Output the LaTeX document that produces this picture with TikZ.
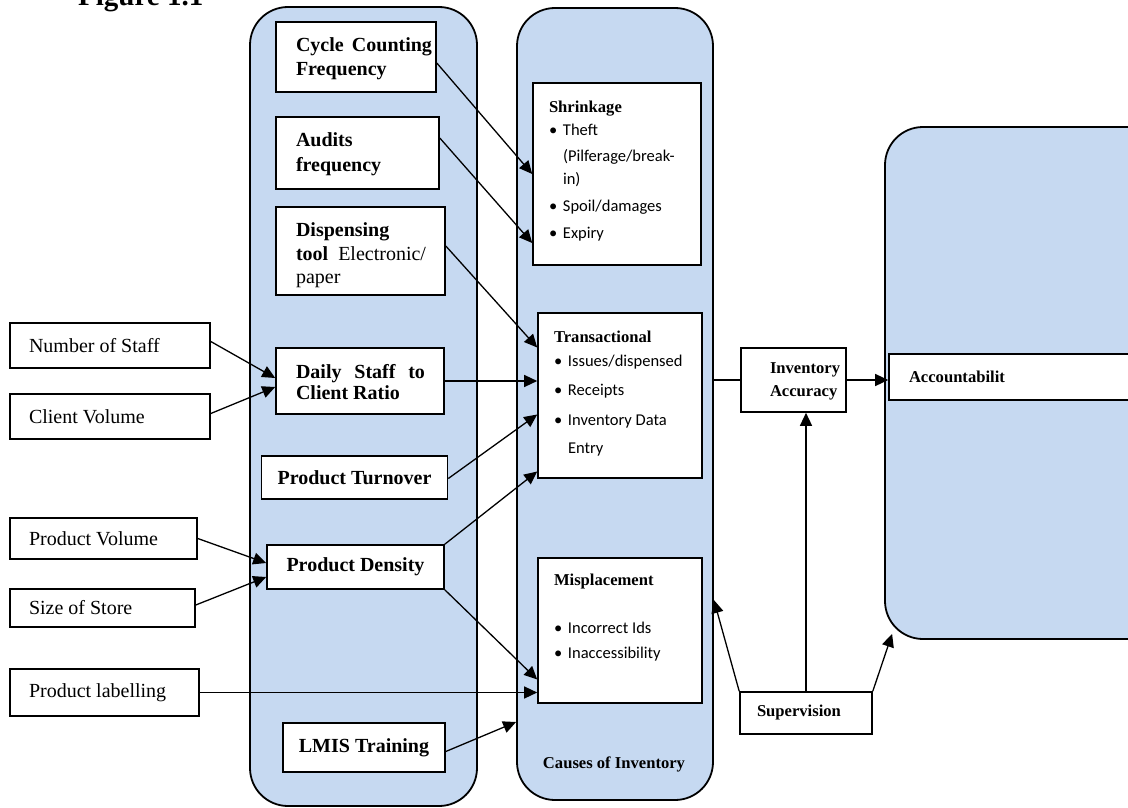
\documentclass[tikz,border=0pt]{standalone}
\usepackage{fontspec}
\setmainfont{Liberation Serif}
\newfontfamily\calfont{Carlito}
\usetikzlibrary{arrows.meta}
\definecolor{colblue}{RGB}{198,217,241}
\newcommand\mytbox[4]{\parbox[c][#2pt][t]{#1pt}{\vspace*{#3pt}#4}}
\newcommand\mycbox[3]{\parbox[c][#2pt][c]{#1pt}{#3}}
\newcommand\bul{\makebox[14pt][l]{\textbullet}}
\newcommand\LBf{\fontsize{20}{23.5}\selectfont\bfseries\hyphenpenalty=10000\relax\leftskip=20pt\relax}
\newcommand\LRf{\fontsize{20}{24}\selectfont\leftskip=19pt\relax\rightskip=0pt plus 1fil\relax}
\newcommand\MBf{\calfont\fontsize{16.5}{23}\selectfont\leftskip=16pt\relax\rightskip=0pt plus 1fil\relax}
\newcommand\MT[1]{{\rmfamily\bfseries\fontsize{16.6}{23}\selectfont #1}}
\newcommand\RBf{\fontsize{16.6}{23}\selectfont\bfseries\rightskip=0pt plus 1fil\relax}
\begin{document}
\begin{tikzpicture}[x=1pt,y=-1pt,
  col/.style={draw=black, line width=1.8pt, fill=colblue, rounded corners=38pt, inner sep=0pt},
  box/.style={draw=black, line width=1.6pt, fill=white, inner sep=0pt},
  cbx/.style={box, font=\fontsize{20}{24}\selectfont\bfseries, align=center},
  arr/.style={line width=1.3pt, -{Triangle[length=13pt,width=12pt]}},
  plainln/.style={line width=1.3pt}]
\useasboundingbox (0,0) rectangle (1128,808);
\clip (0,0) rectangle (1128,808);

% title
\node[anchor=base west, inner sep=0pt, font=\fontsize{29}{34}\selectfont\bfseries] (fig) at (78,6) {Figure 1.1};

% columns
\node[col, minimum width=227pt, minimum height=799pt] (lc) at (363.5,406.5) {};
\node[col, minimum width=196pt, minimum height=792pt] (mc) at (615,404) {};
\node[col, minimum width=300pt, minimum height=512pt] (rc) at (1035,383) {};

% left column boxes
\node[box] (ccf) at (356,57) {\mytbox{160}{70}{16}{\LBf\rightskip=4pt\relax Cycle Counting Frequency}};
\node[box] (aud) at (357.5,153) {\mytbox{163}{72}{16}{\LBf\rightskip=0pt plus 1fil\relax\baselineskip=25pt\relax Audits frequency}};
\node[box] (disp) at (360.5,251) {\mytbox{169}{88}{16}{\LBf\rightskip=19pt\relax Dispensing\\ tool {\mdseries Electronic/ paper}}};
\node[box] (dscr) at (360,381) {\mytbox{168}{66}{16}{\LBf\rightskip=19pt\relax\baselineskip=21.5pt\relax Daily Staff to Client Ratio}};
\node[cbx, minimum width=186pt, minimum height=43pt] (pt) at (354.5,477.5) {Product Turnover};
\node[cbx, minimum width=177pt, minimum height=44pt] (pd) at (355.5,567) {Product Density};
\node[cbx, minimum width=162pt, minimum height=49pt] (lmis) at (364,747.5) {LMIS Training};

% outside boxes
\node[box] (nos) at (110,345.5) {\mycbox{200}{45}{\LRf Number of Staff}};
\node[box] (cv) at (110,416.5) {\mycbox{200}{45}{\LRf Client Volume}};
\node[box] (pv) at (103.5,538.5) {\mycbox{187}{41}{\LRf Product Volume}};
\node[box] (sos) at (102.5,608) {\mycbox{185}{38}{\LRf Size of Store}};
\node[box] (pl) at (104.5,692.5) {\mycbox{189}{47}{\LRf Product labelling}};

% middle column boxes
\node[box] (shr) at (617,174) {\mytbox{168}{182}{17.5}{\MBf\MT{Shrinkage}\\
  \bul Theft\\[3pt]
  \hspace*{14pt}(Pilferage/break-\\
  \hspace*{14pt}in)\\[4pt]
  \bul Spoil/damages\\[4pt]
  \bul Expiry}};
\node[box] (tra) at (620,395.5) {\mytbox{164}{165}{17.5}{\MBf\baselineskip=24pt\relax\MT{Transactional}\\
  \bul Issues/dispensed\\[5pt]
  \bul Receipts\\[6pt]
  \bul Inventory Data\\[4pt]
  \hspace*{14pt}Entry}};
\node[box] (mis) at (620,630.5) {\mytbox{164}{145}{15.5}{\MBf\MT{Misplacement}\\[25pt]
  \bul Incorrect Ids\\[2pt]
  \bul Inaccessibility}};
\node[anchor=base, inner sep=0pt, font=\fontsize{16.6}{20}\selectfont\bfseries] (coi) at (614,768) {Causes of Inventory};

% right side
\node[box] (ia) at (793.5,380) {\mytbox{105}{64}{14.7}{\RBf\leftskip=29pt\relax Inventory\\Accuracy}};
\node[box] (acc) at (1019.5,377) {\mycbox{261}{46}{\RBf\leftskip=20pt\relax Accountabilit}};
\node[box] (sup) at (806,713) {\mycbox{132}{42}{\RBf\leftskip=17pt\relax Supervision}};

% connectors
\draw[arr] ([yshift=-6pt]ccf.east) -- (shr.west);
\draw[arr] ([yshift=15pt]aud.east) -- ([yshift=-69pt]shr.west);
\draw[arr] ([yshift=5pt]disp.east) -- ([yshift=48pt]tra.west);
\draw[arr] (dscr.east) -- (dscr.east -| tra.west);
\draw[arr] ([yshift=-1pt]pt.east) -- ([yshift=-19pt]tra.west);
\draw[arr] (pd.north east) -- ([yshift=-76pt]tra.west);
\draw[arr] (pd.south east) -- ([yshift=-49pt]mis.west);
\draw[arr] (pl.east) -- (pl.east -| mis.west);
\draw[arr] ([yshift=-4pt]lmis.east) -- ([yshift=-318pt]mc.west);
\draw[arr] ([yshift=4pt]nos.east) -- ([yshift=3pt]dscr.west);
\draw[arr] ([yshift=3pt]cv.east) -- ([yshift=-6pt]dscr.west);
\draw[arr] (pv.east) -- ([yshift=4pt]pd.west);
\draw[arr] ([yshift=3pt]sos.east) -- ([yshift=-10pt]pd.west);
\draw[plainln] (ia.west -| mc.east) -- (ia.west);
\draw[arr] (ia.east) -- (ia.east -| acc.west);
\draw[arr] (sup.north) -- (sup.north |- ia.south);
\draw[arr] (sup.north west) -- ([yshift=-196pt]mc.east);
\draw[arr] (sup.north east) -- ([xshift=8pt,yshift=6pt]rc.south west);
\end{tikzpicture}
\end{document}
